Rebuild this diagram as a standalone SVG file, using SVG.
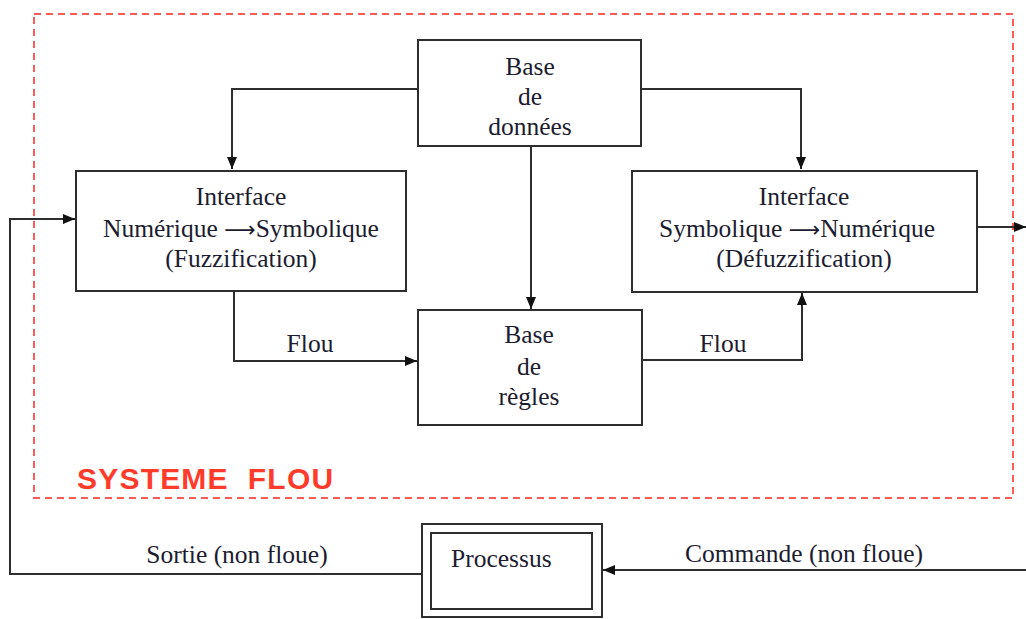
<svg xmlns="http://www.w3.org/2000/svg" width="1026" height="619" viewBox="0 0 1026 619">
  <style>
    .box { fill: #ffffff; stroke: #2e2e2e; stroke-width: 2; }
    .wire { fill: none; stroke: #2e2e2e; stroke-width: 2; }
    .lbl { font-family: "Liberation Serif", "Times New Roman", serif; font-size: 25.5px; fill: #1c1c30; }
    .mid { text-anchor: middle; }
    .arr { font-family: "DejaVu Sans", sans-serif; font-size: 22px; }
    .frame { fill: none; stroke: #ff5a55; stroke-width: 2; stroke-dasharray: 7 5; }
    .title { font-family: "Liberation Sans", Arial, sans-serif; font-weight: bold; font-size: 30px; letter-spacing: 1.2px; fill: #ff3b2b; }
  </style>
  <defs>
    <marker id="arrow" viewBox="0 0 12 10" refX="12" refY="5" markerWidth="12" markerHeight="10" markerUnits="userSpaceOnUse" orient="auto">
      <path d="M0,0 L12,5 L0,10 Z" fill="#111"/>
    </marker>
  </defs>

  <!-- fuzzy system boundary -->
  <g id="systeme-flou">
    <rect class="frame" x="34" y="14" width="979" height="484"/>
    <text class="title" x="77" y="489" xml:space="preserve">SYSTEME  FLOU</text>
  </g>

  <!-- connectors -->
  <g id="connectors">
    <polyline class="wire" points="418,89 232,89 232,169" marker-end="url(#arrow)"/>
    <polyline class="wire" points="641,89 801,89 801,169" marker-end="url(#arrow)"/>
    <line class="wire" x1="531" y1="146" x2="531" y2="309" marker-end="url(#arrow)"/>
    <polyline class="wire" points="234,291 234,361 417,361" marker-end="url(#arrow)"/>
    <polyline class="wire" points="642,360 802,360 802,293" marker-end="url(#arrow)"/>
    <line class="wire" x1="977" y1="227" x2="1026" y2="227" marker-end="url(#arrow)"/>
    <line class="wire" x1="1026" y1="570" x2="603" y2="570" marker-end="url(#arrow)"/>
    <polyline class="wire" points="422,574 10,574 10,219 75,219" marker-end="url(#arrow)"/>
    <text class="lbl mid" x="310" y="352">Flou</text>
    <text class="lbl mid" x="723" y="352">Flou</text>
    <text class="lbl mid" x="237" y="563">Sortie (non floue)</text>
    <text class="lbl mid" x="804" y="562">Commande (non floue)</text>
  </g>

  <!-- data base -->
  <g id="base-donnees">
    <rect class="box" x="418" y="40" width="223" height="106"/>
    <text class="lbl mid" x="530" y="75">Base</text>
    <text class="lbl mid" x="530" y="105">de</text>
    <text class="lbl mid" x="530" y="135">données</text>
  </g>

  <!-- fuzzification interface -->
  <g id="fuzzification">
    <rect class="box" x="76" y="171" width="330" height="120"/>
    <text class="lbl mid" x="241" y="205">Interface</text>
    <text class="lbl mid" x="241" y="237">Numérique <tspan class="arr">⟶</tspan>Symbolique</text>
    <text class="lbl mid" x="241" y="267">(Fuzzification)</text>
  </g>

  <!-- defuzzification interface -->
  <g id="defuzzification">
    <rect class="box" x="632" y="171" width="345" height="121"/>
    <text class="lbl mid" x="804" y="205">Interface</text>
    <text class="lbl mid" x="797" y="237">Symbolique <tspan class="arr">⟶</tspan>Numérique</text>
    <text class="lbl mid" x="804" y="267">(Défuzzification)</text>
  </g>

  <!-- rule base -->
  <g id="base-regles">
    <rect class="box" x="418" y="310" width="224" height="115"/>
    <text class="lbl mid" x="529" y="343">Base</text>
    <text class="lbl mid" x="529" y="375">de</text>
    <text class="lbl mid" x="529" y="405">règles</text>
  </g>

  <!-- controlled process -->
  <g id="processus">
    <rect class="box" x="422" y="524" width="180" height="93"/>
    <rect class="box" x="431" y="533" width="161" height="76"/>
    <text class="lbl" x="451" y="567">Processus</text>
  </g>
</svg>
